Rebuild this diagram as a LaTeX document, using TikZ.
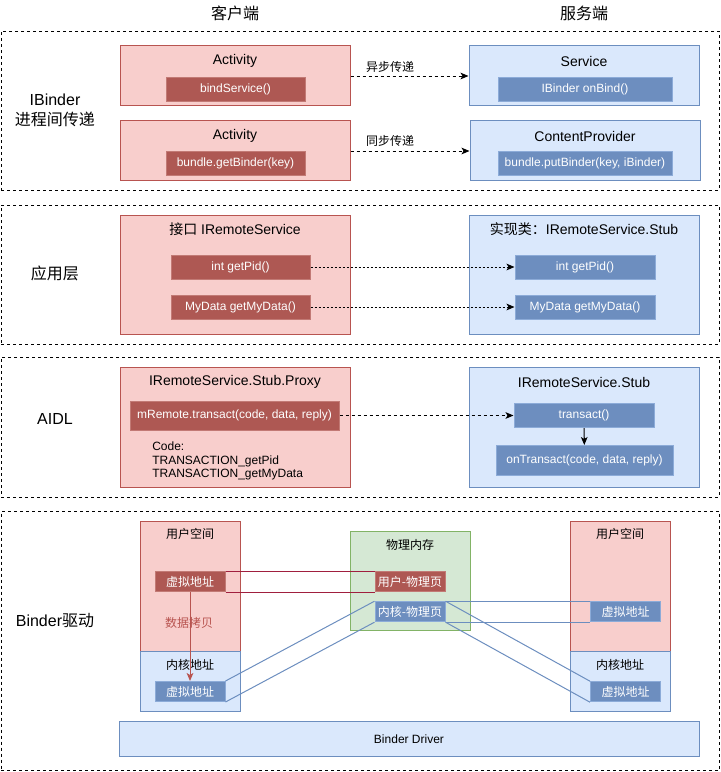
\documentclass[tikz,border=0pt]{standalone}
\usepackage{fontspec}
\setmainfont{Liberation Sans}
\newfontfamily\cjk{Noto Sans CJK SC}
\usetikzlibrary{arrows.meta}
\newcommand\zh[1]{{\cjk #1}}
\definecolor{redlight}{HTML}{F8CECC}
\definecolor{redline}{HTML}{B85450}
\definecolor{reddark}{HTML}{AE5853}
\definecolor{redinline}{HTML}{C27A75}
\definecolor{bluelight}{HTML}{DAE8FC}
\definecolor{blueline}{HTML}{6C8EBF}
\definecolor{bluedark}{HTML}{6D8EBF}
\definecolor{blueinline}{HTML}{8CABD8}
\definecolor{greenlight}{HTML}{D5E8D4}
\definecolor{greenline}{HTML}{82B366}
\definecolor{maroon}{HTML}{A01F3E}
\tikzset{
  wh/.style 2 args={minimum width=#1*0.75pt, minimum height=#2*0.75pt},
  px12/.style={font=\fontsize{9}{11}\selectfont},
  px14/.style={font=\fontsize{10.5}{12.5}\selectfont},
  px16/.style={font=\fontsize{12}{15}\selectfont},
  secbox/.style={draw=black, line width=0.75pt, dash pattern=on 2.25pt off 2.25pt, inner sep=0pt},
  redbox/.style={draw=redline, fill=redlight, line width=0.75pt, inner sep=0pt},
  bluebox/.style={draw=blueline, fill=bluelight, line width=0.75pt, inner sep=0pt},
  greenbox/.style={draw=greenline, fill=greenlight, line width=0.75pt, inner sep=0pt},
  redin/.style={draw=redinline, fill=reddark, line width=0.75pt, inner sep=0pt, text=white, px12},
  bluein/.style={draw=blueinline, fill=bluedark, line width=0.75pt, inner sep=0pt, text=white, px12},
  title/.style={inner sep=0pt, px14},
  small/.style={inner sep=0pt, px12},
  lbl/.style={inner sep=0pt, px16, align=center},
  hdr/.style={inner sep=0pt, px16},
  tip/.style={-{Stealth[length=6pt,width=5pt,inset=1.5pt]}},
  flow/.style={tip, line width=0.75pt, dash pattern=on 2.25pt off 2.25pt},
  dotflow/.style={tip, line width=0.75pt, dash pattern=on 1.5pt off 1.5pt},
  link/.style={line width=0.75pt},
}
\begin{document}
\begin{tikzpicture}[x=0.75pt,y=-0.75pt]
\useasboundingbox (0,0) rectangle (721,772);

% headers
\node[hdr] (hc) at (235,13) {\zh{客户端}};
\node[hdr] (hs) at (584,13) {\zh{服务端}};

% ---------- section 1 ----------
\node[secbox, wh={718}{159}] (s1) at (360,110.5) {};
\node[lbl] (l1) at (55,110) {IBinder\\\zh{进程间传递}};

\node[redbox, wh={230}{60}] (act1) at (235,75) {};
\node[title] (act1t) at (235,61) {Activity};
\node[redin, wh={139}{24}] (bind) at (235.5,89) {bindService()};

\node[redbox, wh={230}{60}] (act2) at (235,150) {};
\node[title] (act2t) at (235,136) {Activity};
\node[redin, wh={139}{24}] (getb) at (235.5,163) {bundle.getBinder(key)};

\node[bluebox, wh={230}{60}] (svc) at (584,75) {};
\node[title] (svct) at (584,61) {Service};
\node[bluein, wh={174}{24}] (onb) at (585,89) {IBinder onBind()};

\node[bluebox, wh={230}{60}] (cp) at (585,150) {};
\node[title] (cpt) at (585,136) {ContentProvider};
\node[bluein, wh={174}{24}] (putb) at (585,163) {bundle.putBinder(key, iBinder)};

\draw[flow] (act1.east |- 0,76) coordinate (a1s) -- (svc.west |- 0,76) coordinate (a1e);
\node[small] (a1l) at (390,67) {\zh{异步传递}};
\draw[flow] (act2.east |- 0,151) coordinate (a2s) -- (cp.west |- 0,151) coordinate (a2e);
\node[small] (a2l) at (390,141) {\zh{同步传递}};

% ---------- section 2 ----------
\node[secbox, wh={718}{139}] (s2) at (360,274.5) {};
\node[lbl] (l2) at (55,273) {\zh{应用层}};

\node[redbox, wh={230}{119}] (iface) at (235,274.5) {};
\node[title] (ifacet) at (235,229) {\zh{接口} IRemoteService};
\node[redin, wh={139}{24}] (pid1) at (240.5,267) {int getPid()};
\node[redin, wh={139}{24}] (dat1) at (240.5,307) {MyData getMyData()};

\node[bluebox, wh={230}{119}] (impl) at (584,274.5) {};
\node[title] (implt) at (584,229) {\zh{实现类：}IRemoteService.Stub};
\node[bluein, wh={140}{24}] (pid2) at (585,267) {int getPid()};
\node[bluein, wh={140}{24}] (dat2) at (585,307) {MyData getMyData()};

\draw[dotflow] (pid1) -- (pid2);
\draw[dotflow] (dat1) -- (dat2);

% ---------- section 3 ----------
\node[secbox, wh={718}{140}] (s3) at (360,427) {};
\node[lbl] (l3) at (55,419) {AIDL};

\node[redbox, wh={230}{120}] (proxy) at (235,427) {};
\node[title] (proxyt) at (235,382) {IRemoteService.Stub.Proxy};
\node[redin, wh={209}{29}] (mrem) at (234.5,415.5) {mRemote.transact(code, data, reply)};
\node[small, anchor=west, align=left, font=\fontsize{9}{10.3}\selectfont] (code) at (152,461) {Code:\\TRANSACTION\_getPid\\TRANSACTION\_getMyData};

\node[bluebox, wh={230}{120}] (stub) at (584,427) {};
\node[title] (stubt) at (584,382) {IRemoteService.Stub};
\node[bluein, wh={140}{24}] (trans) at (584,415.5) {transact()};
\node[bluein, wh={177}{30}] (ontr) at (584.5,460.5) {onTransact(code, data, reply)};

\draw[flow] (mrem) -- (trans);
\draw[tip, line width=0.75pt] (trans) -- (ontr);

% ---------- section 4 ----------
\node[secbox, wh={718}{259.5}] (s4) at (360,640.75) {};
\node[lbl] (l4) at (55,621) {Binder\zh{驱动}};

\node[redbox, wh={100}{130}] (luser) at (190,586) {};
\node[bluebox, wh={100}{60}] (lkern) at (190,681) {};
\node[small] (lusert) at (190,534) {\zh{用户空间}};
\node[small] (lkernt) at (190,665) {\zh{内核地址}};
\node[redin, wh={70}{20}] (lva1) at (190,581.7) {\zh{虚拟地址}};
\node[bluein, wh={70}{20}] (lva2) at (190,691.5) {\zh{虚拟地址}};
\node[small, text=redline] (copy) at (189,623) {\zh{数据拷贝}};

\node[greenbox, wh={120}{99}] (phys) at (410,581.3) {};
\node[small] (physt) at (410,545) {\zh{物理内存}};
\node[redin, wh={70}{20}] (upage) at (410,581.7) {\zh{用户-物理页}};
\node[bluein, wh={70}{20}] (kpage) at (410,611.7) {\zh{内核-物理页}};

\node[redbox, wh={100}{130}] (ruser) at (620,586) {};
\node[bluebox, wh={100}{60}] (rkern) at (620,681) {};
\node[small] (rusert) at (620,534) {\zh{用户空间}};
\node[small] (rkernt) at (620,665) {\zh{内核地址}};
\node[bluein, wh={70}{20}] (rva1) at (625.5,611.7) {\zh{虚拟地址}};
\node[bluein, wh={70}{20}] (rva2) at (625.5,691.7) {\zh{虚拟地址}};

\node[bluebox, wh={580}{35}] (drv) at (409,738.5) {};
\node[small] (drvt) at (409,739) {Binder Driver};

\draw[tip, line width=0.75pt, draw=redline, fill=redline] (lva1.south) -- (lva2.north);

\draw[link, draw=maroon] (lva1.north east) -- (upage.north west);
\draw[link, draw=maroon] (lva1.south east) -- (upage.south west);
\draw[link, draw=blueline] (lva2.north east) -- (kpage.north west);
\draw[link, draw=blueline] (lva2.south east) -- (kpage.south west);
\draw[link, draw=blueline] (kpage.north east) -- (rva1.north west);
\draw[link, draw=blueline] (kpage.south east) -- (rva1.south west);
\draw[link, draw=blueline] (kpage.north east) -- (rva2.north west);
\draw[link, draw=blueline] (kpage.south east) -- (rva2.south west);
\end{tikzpicture}
\end{document}
